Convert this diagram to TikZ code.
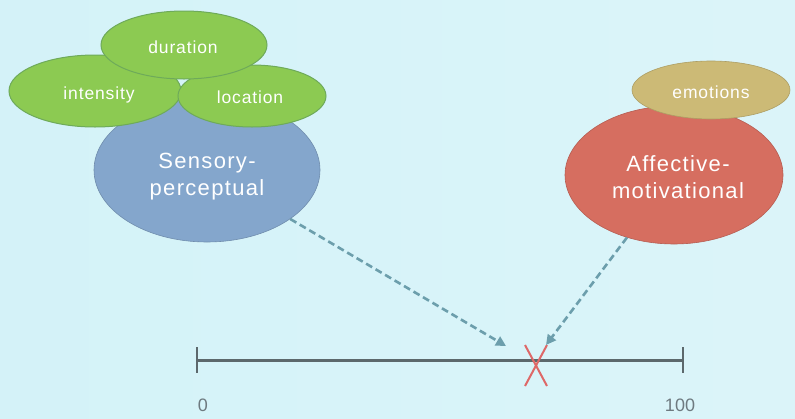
\documentclass[tikz,border=0pt]{standalone}
\usepackage{fontspec}
\setmainfont{Liberation Sans}
\newfontfamily\lblfont[LetterSpace=5]{Liberation Sans}
\newfontfamily\bigfont[LetterSpace=6]{Liberation Sans}
\usetikzlibrary{shapes.geometric,arrows.meta}
\definecolor{bgc}{RGB}{204,240,247}
\definecolor{bluec}{RGB}{132,166,204}
\definecolor{greenc}{RGB}{140,202,82}
\definecolor{greenedge}{RGB}{110,170,90}
\definecolor{redc}{RGB}{214,110,96}
\definecolor{tanc}{RGB}{204,186,118}
\definecolor{linec}{RGB}{92,104,108}
\definecolor{arrc}{RGB}{108,158,172}
\definecolor{xc}{RGB}{222,104,104}
\definecolor{numc}{RGB}{110,122,128}
\begin{document}
\begin{tikzpicture}[x=1pt,y=-1pt,
  blob/.style={ellipse,inner sep=0pt,text=white,align=center},
  small/.style={blob,font=\lblfont\fontsize{17.5}{20}\selectfont},
  big/.style={blob,font=\bigfont\fontsize{22}{27}\selectfont},
  dasharrow/.style={draw=arrc,line width=2.6pt,dash pattern=on 7pt off 4pt,
    -{Triangle[length=10pt,width=10pt]}},
  num/.style={text=numc,font=\fontsize{18}{20}\selectfont}]
\fill[left color=bgc!85!white,right color=bgc!70!white] (0,0) rectangle (795,418);
\useasboundingbox (0,0) rectangle (795,418);
% Sensory-perceptual
\node[big,fill=bluec,draw=bluec!85!black,line width=0.6pt,minimum width=226pt,minimum height=144pt] (sp) at (207,170) {};
\node[small,fill=greenc,draw=greenedge,line width=1pt,minimum width=172pt,minimum height=72pt] (int) at (95,91) {};
\node[small,fill=greenc,draw=greenedge,line width=1pt,minimum width=148pt,minimum height=62pt] (loc) at (252,96) {};
\node[small,fill=greenc,draw=greenedge,line width=1pt,minimum width=166pt,minimum height=68pt] (dur) at (184,45) {};
\node[small] (durt) at (183,47) {duration};
\node[small] (intt) at (99,95) {intensity};
\node[small] (loct) at (250,97) {location};
\node[big] (spt) at (207,177) {Sensory-\\perceptual};
% Affective-motivational
\node[big,fill=redc,draw=redc!85!black,line width=0.6pt,minimum width=218pt,minimum height=138pt] (am) at (674,175) {};
\node[small,fill=tanc,draw=tanc!85!black,line width=0.6pt,minimum width=158pt,minimum height=58pt] (emo) at (711,90) {};
\node[small] (emot) at (711,92) {emotions};
\node[big] (amt) at (678,177) {Affective-\\motivational};
% scale
\coordinate (l0) at (197,360);
\coordinate (l1) at (683,360);
\draw[linec,line width=3pt] (l0) -- (l1);
\draw[linec,line width=2.6pt] (197,347) -- (197,373);
\draw[linec,line width=2.6pt] (683,347) -- (683,373);
\node[num] (n0) at (203,405) {0};
\node[num] (n100) at (680,405) {100};
% marker
\coordinate (xm) at (536,365);
\draw[xc,line width=2pt] (525,345) -- (547,386);
\draw[xc,line width=2pt] (547,345) -- (525,386);
% arrows
\coordinate (tipL) at (506,346);
\coordinate (tipR) at (546,345);
\draw[dasharrow] (sp) -- (tipL);
\draw[dasharrow] (am) -- (tipR);
\end{tikzpicture}
\end{document}
